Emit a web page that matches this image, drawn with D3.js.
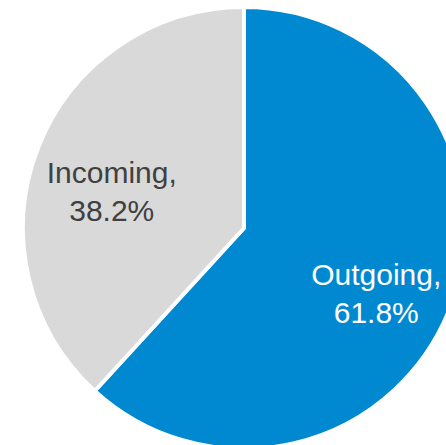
<!DOCTYPE html>
<html>
<head>
<meta charset="utf-8">
<script src="https://cdn.jsdelivr.net/npm/d3@7"></script>
<style>
html, body { margin: 0; padding: 0; background: #fff; overflow: hidden; }
svg { display: block; }
</style>
</head>
<body>
<svg id="chart" width="446" height="445"></svg>
<script>
const categories = ["Outgoing", "Incoming"];
const values = [61.8, 38.2];
const colors = ["#0089D1", "#D9D9D9"];
const labelColors = ["#FFFFFF", "#404040"];

const W = 446, H = 445;
const cx = 244, cy = 228, R = 221;

const svg = d3.select("#chart");
const g = svg.append("g").attr("transform", `translate(${cx},${cy})`);

const data = categories.map((c, i) => ({ name: c, value: values[i], i }));
const pie = d3.pie().value(d => d.value).sort(null).startAngle(0).endAngle(2 * Math.PI);
const arcs = pie(data);

const arc = d3.arc().innerRadius(0).outerRadius(R);
const labelArc = d3.arc().innerRadius(R * 0.642).outerRadius(R * 0.642);

g.selectAll("path.slice")
  .data(arcs)
  .join("path")
  .attr("class", "slice")
  .attr("d", arc)
  .attr("fill", d => colors[d.data.i])
  .attr("stroke", "#fff")
  .attr("stroke-width", 4)
  .attr("stroke-linejoin", "miter");

const fontSize = 30;
const lineGap = 38;
const labels = g.selectAll("text.lbl")
  .data(arcs)
  .join("text")
  .attr("class", "lbl")
  .attr("text-anchor", "middle")
  .attr("font-family", "Liberation Sans, Arial, sans-serif")
  .attr("font-size", fontSize)
  .attr("fill", d => labelColors[d.data.i])
  .attr("transform", d => {
    const [x, y] = labelArc.centroid(d);
    return `translate(${x},${y + 6})`;
  });

labels.append("tspan")
  .attr("x", 0).attr("y", 0)
  .text(d => d.data.name + ",");
labels.append("tspan")
  .attr("x", 0).attr("y", lineGap)
  .text(d => d3.format(".1f")(d.data.value) + "%");
</script>
</body>
</html>
